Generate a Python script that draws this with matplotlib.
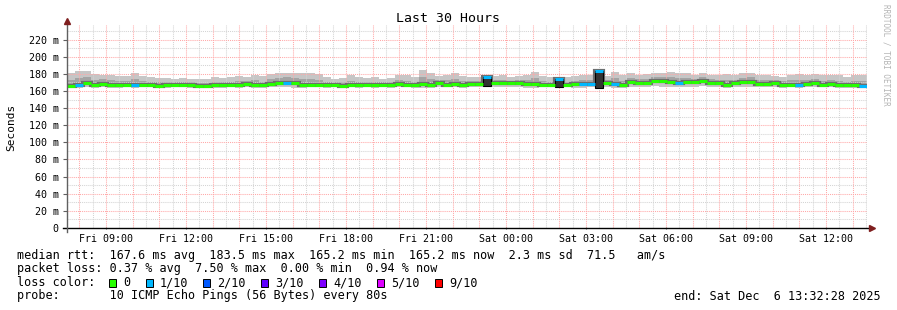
import datetime as dt
import matplotlib
matplotlib.use("Agg")
import matplotlib.pyplot as plt
import matplotlib.dates as mdates
from matplotlib.patches import Rectangle
from matplotlib.ticker import FixedLocator, FuncFormatter

W, H = 897, 310
MONO = "DejaVu Sans Mono"
plt.rcParams["font.family"] = MONO

# --- data -------------------------------------------------------------
end_time = dt.datetime(2025, 12, 6, 13, 32, 28)
span_hours = 30

# median rtt per 18 min step (ms)
median = [166.2, 166.5, 169.6, 166.5, 168.1, 167.3, 166.5, 166.5, 167.3, 167.3,
          166.5, 165.8, 166.5, 166.5, 166.5, 166.5, 166.2, 165.8, 166.5, 166.5,
          166.5, 167.3, 168.1, 167.3, 166.5, 168.1, 169.6, 169.6, 168.8, 167.3,
          167.3, 166.5, 167.3, 166.5, 165.8, 166.5, 166.5, 166.5, 167.3, 166.5,
          166.5, 168.1, 167.3, 166.5, 168.1, 167.3, 168.8, 167.3, 168.1, 167.3,
          168.1, 168.1, 176.5, 168.8, 168.8, 168.8, 168.8, 168.1, 168.1, 167.3,
          167.3, 174.0, 167.3, 168.1, 168.1, 168.1, 183.5, 168.8, 168.1, 166.5,
          170.4, 169.6, 168.8, 171.2, 171.2, 170.4, 169.6, 170.4, 170.4, 171.2,
          169.6, 168.8, 167.3, 168.8, 170.4, 170.4, 168.1, 168.1, 168.8, 167.3,
          167.3, 166.5, 168.1, 168.8, 167.3, 168.1, 167.3, 166.5, 166.5, 165.2]

# highest ping of each step (outer smoke)
smoke_hi = [180.4, 183.5, 183.5, 179.6, 178.8, 178.8, 177.3, 177.3, 181.2, 177.3,
            175.8, 175.0, 175.0, 174.2, 175.0, 174.2, 173.5, 173.5, 175.8, 175.0,
            176.5, 177.3, 175.8, 178.1, 177.3, 179.6, 181.2, 181.2, 180.4, 180.4,
            180.4, 179.6, 175.8, 174.2, 175.0, 178.8, 175.8, 175.0, 176.5, 174.2,
            175.0, 178.8, 178.1, 175.8, 184.2, 180.4, 177.3, 178.1, 180.4, 177.3,
            176.5, 176.5, 178.8, 177.3, 178.1, 176.5, 177.3, 178.8, 182.7, 177.3,
            176.5, 176.5, 175.8, 177.3, 178.1, 178.8, 184.2, 177.3, 181.9, 178.8,
            180.4, 178.8, 179.6, 181.2, 180.4, 181.9, 180.4, 180.4, 178.1, 180.4,
            178.8, 178.1, 179.6, 178.1, 180.4, 181.2, 178.1, 178.8, 177.3, 176.5,
            178.8, 179.6, 178.1, 179.6, 178.1, 178.8, 178.1, 176.5, 178.1, 178.8]

# inner smoke top
smoke_mid = [173, 175, 176, 173, 174, 173, 172, 172, 174, 172,
             171, 170, 170, 170, 171, 170, 169, 169, 171, 170,
             171, 172, 172, 173, 171, 174, 175, 176, 175, 174,
             174, 173, 171, 170, 170, 172, 171, 170, 171, 170,
             170, 173, 172, 171, 176, 174, 173, 173, 174, 172,
             172, 172, 172, 173, 173, 172, 173, 173, 175, 172,
             171, 171, 171, 172, 173, 173, 174, 173, 175, 172,
             175, 174, 174, 176, 176, 176, 175, 175, 174, 176,
             174, 173, 173, 173, 175, 176, 173, 173, 173, 172,
             173, 173, 173, 174, 172, 173, 172, 171, 172, 172]

# lowest ping of each step
smoke_lo = [164.0, 163.2, 164.5, 163.8, 164.2, 164.0, 163.6, 164.4, 163.8, 164.2,
            164.5, 164.0, 163.8, 164.4, 164.2, 163.9, 164.3, 164.1, 163.6, 164.0,
            164.4, 163.8, 164.6, 164.0, 163.5, 164.8, 164.2, 164.6, 164.0, 163.8,
            164.2, 164.4, 163.9, 164.1, 163.7, 164.3, 164.0, 164.2, 163.8, 164.4,
            164.0, 164.5, 164.1, 163.6, 163.2, 164.0, 164.6, 164.2, 164.4, 163.8,
            164.5, 164.2, 164.8, 164.4, 164.6, 164.2, 164.5, 164.0, 163.8, 164.3,
            164.1, 164.4, 164.2, 164.0, 163.8, 164.2, 163.7, 164.6, 164.0, 163.8,
            164.8, 165.0, 164.6, 165.2, 165.0, 164.8, 164.6, 165.0, 164.8, 165.2,
            164.6, 164.4, 164.0, 164.5, 165.0, 164.8, 164.2, 164.4, 164.6, 164.0,
            164.2, 163.8, 164.4, 164.6, 164.2, 164.4, 164.0, 163.8, 163.6, 163.2]

# loss class per step (index into loss_colors)
loss = [0, 1, 0, 0, 0, 0, 0, 0, 1, 0,
        0, 0, 0, 0, 0, 0, 0, 0, 0, 0,
        0, 0, 0, 0, 0, 0, 0, 1, 0, 0,
        0, 0, 0, 0, 0, 0, 0, 0, 0, 0,
        0, 0, 0, 0, 0, 0, 0, 0, 0, 0,
        0, 0, 1, 0, 0, 0, 0, 0, 0, 0,
        0, 1, 0, 0, 1, 1, 1, 0, 1, 0,
        0, 0, 0, 0, 0, 0, 1, 0, 0, 0,
        0, 0, 0, 0, 0, 0, 0, 0, 0, 0,
        0, 1, 0, 0, 0, 0, 0, 0, 0, 1]

# steps where the smoke collapses into a dark column
spike_bins = [52, 61, 66]
spike_lo = [165.5, 165.0, 164.0]

loss_labels = ["0", "1/10", "2/10", "3/10", "4/10", "5/10", "9/10"]
loss_colors = ["#26ff00", "#00b8ff", "#0059ff", "#5e00ff", "#7e00ff", "#dd00ff", "#ff0000"]

y_ticks = [0, 20, 40, 60, 80, 100, 120, 140, 160, 180, 200, 220]

legend_rtt = "median rtt:  167.6 ms avg  183.5 ms max  165.2 ms min  165.2 ms now  2.3 ms sd  71.5   am/s"
legend_loss = "packet loss: 0.37 % avg  7.50 % max  0.00 % min  0.94 % now"
legend_probe = "probe:       10 ICMP Echo Pings (56 Bytes) every 80s"
legend_end = "end: Sat Dec  6 13:32:28 2025"

# --- figure -----------------------------------------------------------
start_time = end_time - dt.timedelta(hours=span_hours)
n = len(median)
step = dt.timedelta(hours=span_hours) / n
edges = mdates.date2num([start_time + i * step for i in range(n + 1)])
x0, x1 = mdates.date2num(start_time), mdates.date2num(end_time)

fig = plt.figure(figsize=(W / 100, H / 100), dpi=100)
fig.patch.set_facecolor("white")
ax = fig.add_axes([67 / W, 1 - 228 / H, 800 / W, 203 / H])
ax.set_xlim(x0, x1)
ax.set_ylim(0, 237)
for s in ax.spines.values():
    s.set_visible(False)

# smoke
ax.stairs(smoke_hi, edges, baseline=smoke_lo, fill=True, color="#c6c6c6", lw=0, zorder=1)
ax.stairs(smoke_mid, edges, baseline=median, fill=True, color="#a4a4a4", lw=0, zorder=1.5)

# grid (rrdtool draws it over the smoke)
dots = (0, (1, 1))
for t in mdates.MinuteLocator(byminute=[30]).tick_values(start_time, end_time):
    if x0 < t < x1:
        ax.axvline(t, color="#d4d4d4", lw=0.75, ls=dots, zorder=2)
for t in mdates.HourLocator().tick_values(start_time, end_time):
    if x0 < t < x1:
        ax.axvline(t, color="#ffa8a8", lw=0.75, ls=dots, zorder=2.1)
for v in range(10, 237, 20):
    ax.axhline(v, color="#d4d4d4", lw=0.75, ls=dots, zorder=2)
for v in y_ticks[1:]:
    ax.axhline(v, color="#ffa8a8", lw=0.75, ls=dots, zorder=2.1)

# median
ax.stairs(median, edges, baseline=None, color="#6e6e6e", lw=3.0, zorder=3)
for b, lo in zip(spike_bins, spike_lo):
    ax.add_patch(Rectangle((edges[b], lo), edges[b + 1] - edges[b], median[b] - lo,
                           facecolor="#333333", edgecolor="#000000", lw=0.8, zorder=3.5))
ax.hlines(median, edges[:-1], edges[1:], colors=[loss_colors[k] for k in loss],
          lw=2.2, zorder=4)

# axes lines and arrows
ax.plot([-4 / 800, 1.002], [0, 0], color="black", lw=1, transform=ax.transAxes,
        clip_on=False, zorder=5)
ax.plot([0, 0], [-4 / 203, 1.01], color="#606060", lw=1, transform=ax.transAxes,
        clip_on=False, zorder=5)
ax.plot([0], [1.02], marker="^", ms=4.5, color="#7f1f1f", transform=ax.transAxes,
        clip_on=False, zorder=6)
ax.plot([1.006], [0], marker=">", ms=4.5, color="#7f1f1f", transform=ax.transAxes,
        clip_on=False, zorder=6)

# ticks
ax.xaxis.set_major_locator(mdates.HourLocator(byhour=range(0, 24, 3)))
ax.xaxis.set_major_formatter(mdates.DateFormatter("%a %H:%M"))
ax.yaxis.set_major_locator(FixedLocator(y_ticks))
ax.yaxis.set_major_formatter(FuncFormatter(lambda v, p: "0" if v == 0 else f"{int(v)} m"))
ax.tick_params(axis="x", length=2, width=0.8, color="#606060", pad=3,
               labelsize=7.2, direction="inout")
ax.tick_params(axis="y", length=3, width=0.8, color="#606060", pad=3, labelsize=7.2)

# text
fig.text(448 / W, 1 - 19 / H, "Last 30 Hours", ha="center", va="center", fontsize=9.5)
fig.text(11 / W, 1 - 127 / H, "Seconds", ha="center", va="center", rotation=90, fontsize=8)
fig.text(886 / W, 1 - 4 / H, "RRDTOOL / TOBI OETIKER", ha="center", va="top",
         rotation=270, fontsize=5.5, color="#b4b4b4")

lx = 16.5 / W
fig.text(lx, 1 - 255 / H, legend_rtt, va="center", fontsize=8.5)
fig.text(lx, 1 - 268.5 / H, legend_loss, va="center", fontsize=8.5)
fig.text(lx, 1 - 282.5 / H, "loss color:", va="center", fontsize=8.5)
fig.text(lx, 1 - 296 / H, legend_probe, va="center", fontsize=8.5)
fig.text(881 / W, 1 - 296 / H, legend_end, ha="right", va="center", fontsize=8.5)

box_x = [109, 146, 203, 261, 319, 377, 435]
for bx, lab, col in zip(box_x, loss_labels, loss_colors):
    fig.patches.append(Rectangle((bx / W, 1 - 286.5 / H), 7 / W, 8 / H, facecolor=col,
                                 edgecolor="black", lw=0.7, transform=fig.transFigure))
    fig.text((bx + 14) / W, 1 - 282.5 / H, lab, va="center", fontsize=8.5)

fig.savefig("out.png", dpi=100, facecolor="white")
